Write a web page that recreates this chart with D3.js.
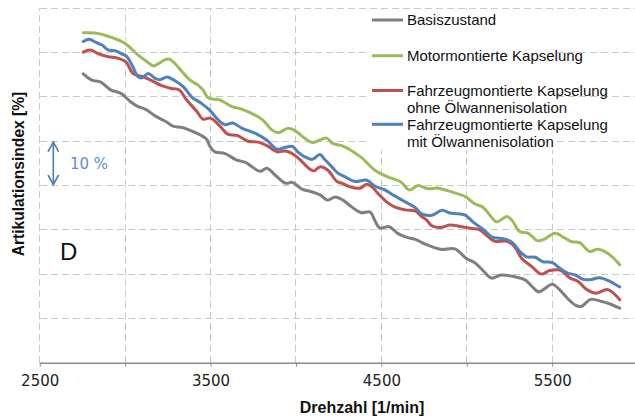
<!DOCTYPE html>
<html>
<head>
<meta charset="utf-8">
<script src="https://cdn.jsdelivr.net/npm/d3@7"></script>
<style>
  html, body { margin: 0; padding: 0; background: #fff; }
  svg { display: block; }
</style>
</head>
<body>
<svg id="chart" width="635" height="419"></svg>
<script>
// Articulation index vs. engine speed for four encapsulation variants.
// Each series: [engine speed in 1/min, articulation index in %]

const seriesNames = [
  "Basiszustand",
  "Motormontierte Kapselung",
  "Fahrzeugmontierte Kapselung\nohne Ölwannenisolation",
  "Fahrzeugmontierte Kapselung\nmit Ölwannenisolation"
];
const seriesColors = ["#7f7f7f", "#9bbb59", "#c0504d", "#4f81bd"];

const basiszustand = [
  [2755,65.2],[2805,63.8],[2855,63.4],[2915,61.6],[2975,60.8],[3035,58.8],[3070,57.9],
  [3120,57.2],[3180,55.6],[3240,54.4],[3280,53.4],[3335,53.1],[3390,52.3],[3450,51.2],
  [3480,50.3],[3495,48.9],[3525,47.6],[3585,47.2],[3650,45.8],[3705,45.2],[3740,44.3],
  [3790,43.2],[3830,43.9],[3885,42.1],[3940,40.5],[3980,40.7],[4035,39.2],[4090,38.6],
  [4140,37.9],[4185,36.7],[4230,37.4],[4275,36.7],[4315,35.5],[4380,33.9],[4435,34.0],
  [4460,32.2],[4490,30.4],[4545,30.7],[4595,29.2],[4650,28.3],[4695,27.9],[4760,26.7],
  [4845,25.6],[4930,25.7],[4995,23.6],[5045,22.6],[5095,20.8],[5145,19.1],[5200,19.8],
  [5280,19.4],[5340,18.7],[5380,17.3],[5420,16.0],[5500,17.7],[5535,16.8],[5590,14.5],
  [5635,13.0],[5670,12.7],[5725,14.3],[5790,13.8],[5835,13.3],[5895,12.3]
];

const motormontiert = [
  [2755,74.5],[2825,74.4],[2900,73.7],[2980,72.5],[3015,71.6],[3075,69.5],[3130,67.9],
  [3165,67.0],[3190,67.4],[3235,68.4],[3260,68.5],[3290,67.6],[3335,65.6],[3380,63.8],
  [3425,62.7],[3455,61.6],[3485,59.8],[3515,59.5],[3555,59.3],[3625,57.8],[3685,57.2],
  [3760,55.9],[3805,54.8],[3860,52.5],[3895,51.9],[3955,52.9],[4005,52.1],[4050,50.7],
  [4095,49.7],[4140,50.3],[4180,50.7],[4215,49.5],[4275,48.9],[4380,46.4],[4460,43.5],
  [4540,41.9],[4610,40.9],[4665,39.0],[4715,40.0],[4770,39.3],[4830,39.4],[4915,38.5],
  [4990,37.5],[5045,35.9],[5095,35.1],[5135,33.3],[5175,31.8],[5235,33.0],[5265,32.1],
  [5310,29.6],[5360,29.2],[5415,27.5],[5455,27.9],[5515,29.2],[5575,28.1],[5615,27.3],
  [5660,27.1],[5720,25.1],[5765,25.6],[5825,24.7],[5895,22.1]
];

const fahrzeugOhne = [
  [2755,70.1],[2795,70.6],[2840,69.8],[2900,69.1],[2960,68.7],[3005,67.9],[3045,65.3],
  [3100,64.6],[3150,63.8],[3210,62.6],[3270,61.9],[3315,61.6],[3360,59.3],[3420,56.7],
  [3455,55.0],[3500,55.2],[3555,53.4],[3600,51.6],[3655,51.3],[3720,50.0],[3780,49.8],
  [3830,49.0],[3890,47.6],[3940,47.8],[3990,46.9],[4035,45.4],[4080,43.7],[4105,43.3],
  [4140,44.2],[4185,43.5],[4240,40.9],[4270,40.5],[4315,39.7],[4375,39.4],[4415,40.3],
  [4445,39.7],[4480,38.2],[4530,36.3],[4580,35.1],[4640,34.5],[4700,34.2],[4735,33.0],
  [4765,32.2],[4795,30.9],[4845,30.5],[4900,31.1],[4970,30.7],[5030,30.3],[5075,30.0],
  [5125,28.4],[5165,27.4],[5235,27.4],[5280,26.2],[5320,23.6],[5380,21.7],[5435,20.0],
  [5485,20.8],[5545,20.9],[5605,19.1],[5650,18.4],[5695,16.7],[5755,15.7],[5825,16.5],
  [5895,14.2]
];

const fahrzeugMit = [
  [2755,72.5],[2790,73.0],[2830,72.3],[2865,71.7],[2900,70.6],[2945,70.4],[2980,69.7],
  [3010,69.1],[3040,67.2],[3075,64.6],[3100,64.3],[3135,65.3],[3175,64.2],[3205,63.9],
  [3245,64.5],[3290,63.7],[3340,62.3],[3395,59.8],[3445,58.6],[3495,57.0],[3545,54.8],
  [3585,53.7],[3630,54.1],[3685,52.9],[3760,51.8],[3830,50.2],[3890,48.2],[3935,48.6],
  [3980,48.8],[4010,47.6],[4050,46.5],[4095,45.9],[4140,47.0],[4170,45.8],[4210,44.2],
  [4245,42.8],[4285,42.0],[4345,40.9],[4415,41.2],[4460,39.9],[4520,39.0],[4580,37.6],
  [4640,36.3],[4695,35.1],[4735,33.6],[4795,33.3],[4855,34.4],[4900,33.8],[4950,33.6],
  [4990,33.3],[5045,31.5],[5105,29.8],[5145,28.4],[5225,27.9],[5270,27.0],[5310,25.1],
  [5350,23.9],[5400,23.8],[5445,22.8],[5500,22.6],[5545,21.3],[5590,20.2],[5635,19.8],
  [5680,18.8],[5730,18.8],[5775,19.2],[5825,18.6],[5895,17.1]
];

const seriesData = [basiszustand, motormontiert, fahrzeugOhne, fahrzeugMit];

// Axis settings
const xDomain = [2500, 6000];
const xTicks = [2500, 3000, 3500, 4000, 4500, 5000, 5500];
const xLabelTicks = [2500, 3500, 4500, 5500];
const yDomain = [0, 80];
const yGrid = [10, 20, 30, 40, 50, 60, 70, 80];
const xTitle = "Drehzahl [1/min]";
const yTitle = "Artikulationsindex [%]";
const scaleMarker = { from: 40, to: 50, label: "10 %" };
const panelLetter = "D";

const svg = d3.select("#chart");
const x = d3.scaleLinear().domain(xDomain).range([39.7, 637.7]);
const y = d3.scaleLinear().domain(yDomain).range([362.7, 8.3]);

const gridColor = "#c9c9c9";
const sansFont = "'Liberation Sans', Arial, sans-serif";
const tickFont = "'DejaVu Sans', Verdana, sans-serif";

// Dashed grid
const grid = svg.append("g").attr("class", "grid");
grid.selectAll("line.h").data(yGrid).join("line")
  .attr("class", "h")
  .attr("x1", x(xDomain[0])).attr("x2", x(xDomain[1]))
  .attr("y1", d => y(d)).attr("y2", d => y(d))
  .attr("stroke", gridColor).attr("stroke-width", 1)
  .attr("stroke-dasharray", "7,4")
  .attr("shape-rendering", "crispEdges");
grid.selectAll("line.v").data(xTicks).join("line")
  .attr("class", "v")
  .attr("x1", d => x(d)).attr("x2", d => x(d))
  .attr("y1", y(yDomain[0])).attr("y2", y(yDomain[1]))
  .attr("stroke", gridColor).attr("stroke-width", 1)
  .attr("stroke-dasharray", "7,4")
  .attr("shape-rendering", "crispEdges");

// Bottom axis
const xAxis = d3.axisBottom(x)
  .tickValues(xTicks)
  .tickFormat(d => xLabelTicks.includes(d) ? String(d) : "")
  .tickSizeInner(4)
  .tickSizeOuter(0)
  .tickPadding(9);
const gx = svg.append("g")
  .attr("transform", `translate(0,${y(0)})`)
  .call(xAxis);
gx.select(".domain").attr("stroke", "#8c8c8c").attr("stroke-width", 1.5);
gx.selectAll(".tick line").attr("stroke", "#8c8c8c").attr("stroke-width", 1);
gx.selectAll(".tick text")
  .attr("font-family", tickFont).attr("font-size", 15).attr("fill", "#222");

// Series lines
const line = d3.line()
  .x(d => x(d[0]))
  .y(d => y(d[1]))
  .curve(d3.curveCatmullRom.alpha(0.5));

svg.append("g").selectAll("path").data(seriesData).join("path")
  .attr("d", line)
  .attr("fill", "none")
  .attr("stroke", (d, i) => seriesColors[i])
  .attr("stroke-width", 3)
  .attr("stroke-linejoin", "round")
  .attr("stroke-linecap", "round");

// Axis titles
svg.append("text")
  .attr("x", 362).attr("y", 413)
  .attr("text-anchor", "middle")
  .attr("font-family", sansFont).attr("font-weight", "bold").attr("font-size", 16)
  .attr("fill", "#111")
  .text(xTitle);

svg.append("text")
  .attr("transform", "translate(24,174) rotate(-90)")
  .attr("text-anchor", "middle")
  .attr("font-family", sansFont).attr("font-weight", "bold").attr("font-size", 15.6)
  .attr("fill", "#111")
  .text(yTitle);

// 10 % scale marker
const markerX = 53.3;
const markerColor = "#4a7ebb";
const mk = svg.append("g").attr("stroke", markerColor).attr("stroke-width", 1.6)
  .attr("fill", "none").attr("stroke-linecap", "round");
const yTop = y(scaleMarker.to), yBot = y(scaleMarker.from);
mk.append("line").attr("x1", markerX).attr("x2", markerX).attr("y1", yTop + 1).attr("y2", yBot - 1);
mk.append("path").attr("d", `M${markerX - 5},${yTop + 10}L${markerX},${yTop + 1}L${markerX + 5},${yTop + 10}`);
mk.append("path").attr("d", `M${markerX - 5},${yBot - 10}L${markerX},${yBot - 1}L${markerX + 5},${yBot - 10}`);
svg.append("text")
  .attr("x", 70).attr("y", (yTop + yBot) / 2 + 5.5)
  .attr("font-family", tickFont).attr("font-size", 15)
  .attr("fill", "#5b8fd0")
  .text(scaleMarker.label);

// Panel letter
svg.append("text")
  .attr("x", 60).attr("y", 259.5)
  .attr("font-family", sansFont).attr("font-size", 24)
  .attr("fill", "#111")
  .text(panelLetter);

// Legend
const legend = svg.append("g");
legend.append("rect")
  .attr("x", 367).attr("y", 10).attr("width", 186).attr("height", 140)
  .attr("fill", "#fff");
const legendRows = [20, 55.7, 90.5, 124.3];
seriesNames.forEach((name, i) => {
  const ly = legendRows[i];
  legend.append("line")
    .attr("x1", 372).attr("x2", 403).attr("y1", ly).attr("y2", ly)
    .attr("stroke", seriesColors[i]).attr("stroke-width", 3);
  const t = legend.append("text")
    .attr("x", 407).attr("y", ly + 5.3)
    .attr("font-family", sansFont).attr("font-size", 15)
    .attr("fill", "#111");
  name.split("\n").forEach((part, k) => {
    t.append("tspan").attr("x", 407).attr("dy", k === 0 ? 0 : 17.3).text(part);
  });
});
</script>
</body>
</html>
